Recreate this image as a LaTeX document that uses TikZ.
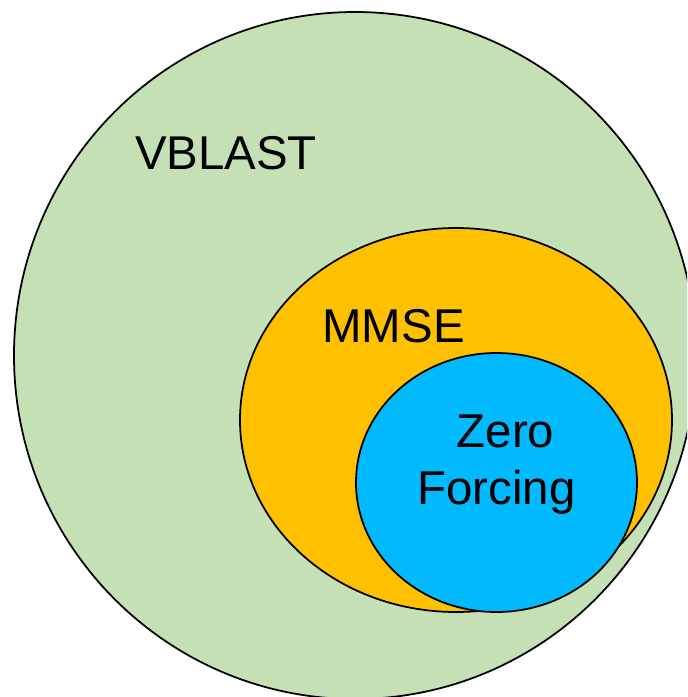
\documentclass[tikz,border=0pt]{standalone}
\usepackage{fontspec}
\setmainfont{Liberation Sans}
\usepackage{tikz}

\definecolor{setgreen}{HTML}{C5E0B4}
\definecolor{setorange}{HTML}{FFC000}
\definecolor{setblue}{HTML}{00B9FF}

\begin{document}
\begin{tikzpicture}[
        x=0.02cm, y=-0.02cm,
        set_region/.style={draw=black, line width=1pt},
        set_label/.style={font=\fontsize{27}{32.4}\selectfont, text=black, align=center, inner sep=0pt}
    ]
    \useasboundingbox (0, 0) rectangle (687, 697);
    \clip (0, 0) rectangle (687, 697);

    % nested sets
    \filldraw[set_region, fill=setgreen] (355, 355.5) ellipse (341 and 343.5);
    \filldraw[set_region, fill=setorange] (456, 420) ellipse (216 and 192);
    \filldraw[set_region, fill=setblue] (496.5, 482.5) ellipse (140.5 and 129.5);

    % labels
    \node[set_label, anchor=base] (lbl_vblast) at (226, 169) {VBLAST};
    \node[set_label, anchor=base] (lbl_mmse) at (393.5, 342) {MMSE};
    \node[set_label] (lbl_zf) at (496.5, 464.5) {\hspace*{0.36cm}Zero\\Forcing};

\end{tikzpicture}
\end{document}
